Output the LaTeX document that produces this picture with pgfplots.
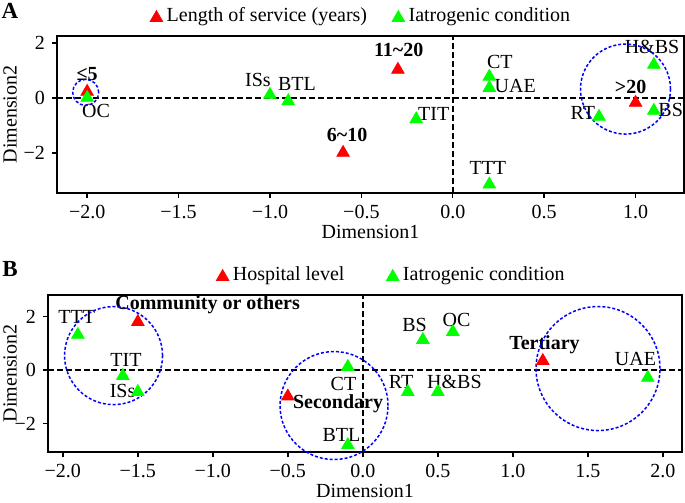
\documentclass[border=0pt]{standalone}
\usepackage{fontspec}
\setmainfont{Liberation Serif}
\usepackage{pgfplots}
\pgfplotsset{compat=1.18}

\definecolor{lgreen}{RGB}{0,255,0}

\tikzset{ring/.style={blue, line width=0.75pt, dash pattern=on 1.5pt off 1pt}}

\pgfplotsset{
  mca/.style={
    scale only axis, clip=false,
    axis line style={line width=0.7pt},
    tick align=outside, tick pos=left,
    major tick length=2.5pt,
    every tick/.style={black, line width=0.7pt},
    legend style={draw=none, fill=none, inner sep=0pt, anchor=west,
      legend columns=2},
    legend cell align=left,
    legend image code/.code={\draw[mark repeat=2,mark phase=2,##1]
      plot coordinates {(0pt,0pt) (3.5pt,0pt) (7pt,0pt)};},
  },
  redpts/.style={only marks, mark=triangle*, mark size=3.6pt, red,
    mark options={draw=none, fill=red, yshift=-0.9pt}},
  greenpts/.style={only marks, mark=triangle*, mark size=3.6pt, lgreen,
    mark options={draw=none, fill=lgreen, yshift=-0.9pt}},
  refline/.style={forget plot, black, line width=0.75pt, dash pattern=on 3pt off 1.5pt},
}

\begin{document}
\begin{tikzpicture}[font=\fontsize{10}{12}\selectfont]

% ---------------- A: length of service ----------------
\node[font=\fontsize{11.5}{13}\selectfont\bfseries] at (5pt,-5.5pt) {A};
\begin{axis}[mca,
  at={(28.5pt,-18pt)}, anchor=north west,
  width=313.5pt, height=78.5pt,
  xmin=-2.165, xmax=1.265, ymin=-3.45, ymax=2.26,
  xtick={-2,-1.5,-1,-0.5,0,0.5,1},
  xticklabels={−2.0,−1.5,−1.0,−0.5,0.0,0.5,1.0},
  ytick={-2,0,2}, yticklabels={−2,0,2},
  xlabel={Dimension1}, ylabel={Dimension2},
  x label style={at={([yshift=-19.25pt]axis description cs:0.5,0)}, anchor=center},
  y label style={at={([xshift=-23.5pt]axis description cs:0,0.5)}, anchor=center},
  legend style={at={(axis description cs:0.148,1.127)},
    /tikz/every even column/.append style={column sep=10.5pt}},
]
\addplot[refline] coordinates {(-2.165,0) (1.265,0)};
\addplot[refline] coordinates {(0,-3.45) (0,2.26)};

\addplot[redpts] coordinates {
  (-2.0,0.30) (-0.3,1.10) (-0.6,-1.92) (1.0,-0.10)
};
\addlegendentry{Length of service (years)}
\addplot[greenpts] coordinates {
  (-2.0,0.08) (-1.0,0.19) (-0.9,-0.04) (-0.2,-0.70) (0.2,0.85)
  (0.2,0.44) (0.2,-3.07) (0.8,-0.61) (1.1,1.28) (1.1,-0.39)
};
\addlegendentry{Iatrogenic condition}

\node[font=\bfseries] at (-2.0,0.88) {≤5};
\node[font=\bfseries] at (-0.296,1.75) {11\textasciitilde20};
\node[font=\bfseries] at (-0.578,-1.34) {6\textasciitilde10};
\node[font=\bfseries] at (0.973,0.41) {>20};
\node at (-1.951,-0.47) {OC};
\node at (-1.066,0.66) {ISs};
\node at (-0.852,0.52) {BTL};
\node at (-0.104,-0.57) {TIT};
\node at (0.258,1.32) {CT};
\node at (0.342,0.44) {UAE};
\node at (0.192,-2.54) {TTT};
\node at (0.712,-0.54) {RT};
\node at (1.192,-0.43) {BS};
\node at (1.09,1.86) {H\&BS};

\draw[ring] (-2.008,0.21) circle[radius=6.5pt];
\draw[ring] (0.945,0.33) circle[radius=22.5pt];
\end{axis}

% ---------------- B: hospital level ----------------
\node[font=\fontsize{11.5}{13}\selectfont\bfseries] at (5pt,-134.5pt) {B};
\begin{axis}[mca,
  at={(24pt,-147.5pt)}, anchor=north west,
  width=317pt, height=78.5pt,
  xmin=-2.099, xmax=2.128, ymin=-3.07, ymax=2.81,
  xtick={-2,-1.5,-1,-0.5,0,0.5,1,1.5,2},
  xticklabels={−2.0,−1.5,−1.0,−0.5,0.0,0.5,1.0,1.5,2.0},
  ytick={-2,0,2}, yticklabels={−2,0,2},
  xlabel={Dimension1}, ylabel={Dimension2},
  x label style={at={([yshift=-19.25pt]axis description cs:0.5,0)}, anchor=center},
  y label style={at={([xshift=-19pt]axis description cs:0,0.5)}, anchor=center},
  legend style={at={(axis description cs:0.265,1.127)},
    /tikz/every even column/.append style={column sep=19pt}},
]
\addplot[refline] coordinates {(-2.099,0) (2.128,0)};
\addplot[refline] coordinates {(0,-3.07) (0,2.81)};

\addplot[redpts] coordinates {
  (-1.5,1.87) (-0.5,-0.92) (1.2,0.41)
};
\addlegendentry{Hospital level}
\addplot[greenpts] coordinates {
  (-1.9,1.39) (-1.6,-0.15) (-1.5,-0.75) (-0.1,0.19) (-0.1,-2.74)
  (0.3,-0.75) (0.5,-0.75) (0.4,1.20) (0.6,1.50) (1.9,-0.22)
};
\addlegendentry{Iatrogenic condition}

\node[font=\bfseries] at (-1.035,2.44) {Community or others};
\node[font=\bfseries] at (-0.165,-1.26) {Secondary};
\node[font=\bfseries] at (1.211,0.94) {Tertiary};
\node at (-1.908,1.97) {TTT};
\node at (-1.579,0.39) {TIT};
\node at (-1.602,-0.77) {ISs};
\node at (-0.129,-0.51) {CT};
\node at (-0.142,-2.42) {BTL};
\node at (0.345,1.67) {BS};
\node at (0.625,1.89) {OC};
\node at (0.255,-0.43) {RT};
\node at (0.611,-0.43) {H\&BS};
\node at (1.818,0.43) {UAE};

\draw[ring] (-1.662,0.54) circle[radius=24.5pt];
\draw[ring] (-0.192,-1.33) circle[radius=27pt];
\draw[ring] (1.568,0.056) circle[radius=31pt];
\end{axis}

\pgfresetboundingbox
\path (0,0) rectangle (342.5pt,-251.5pt);
\end{tikzpicture}
\end{document}
